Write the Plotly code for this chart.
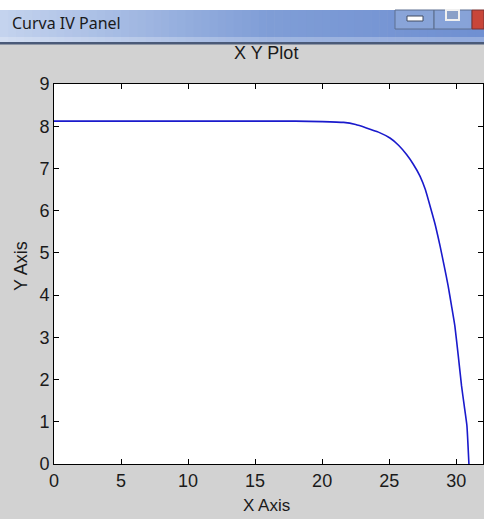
import plotly.graph_objects as go

# Data (I-V curve)
voltage = [0, 5, 10, 15, 18, 20, 21.6, 22.5, 23.3, 24.2, 25.06, 25.7, 26.3, 26.8, 27.3,
           27.7, 28.05, 28.45, 28.8, 29.1, 29.4, 29.65, 29.9, 30.15, 30.4, 30.6, 30.8, 30.95]
current = [8.12, 8.12, 8.12, 8.12, 8.12, 8.11, 8.09, 8.04, 7.96, 7.86, 7.72, 7.55, 7.33, 7.1, 6.82,
           6.5, 6.11, 5.65, 5.16, 4.7, 4.22, 3.75, 3.27, 2.58, 1.85, 1.38, 0.91, 0.0]

x_ticks = [0, 5, 10, 15, 20, 25, 30]
y_ticks = [0, 1, 2, 3, 4, 5, 6, 7, 8, 9]

W, H = 484, 519
L, R, T, B = 54, 483, 84, 464
PW, PH = R - L, B - T


def px(x):
    return (x - L) / PW


def py(y):
    return (B - y) / PH


FONT = "Liberation Sans Narrow, Liberation Sans, Arial, sans-serif"

fig = go.Figure()
fig.add_trace(go.Scatter(x=voltage, y=current, mode="lines", line_shape="spline",
                         line=dict(color="#1a1acc", width=1.6, smoothing=0.4),
                         showlegend=False, hoverinfo="skip"))

shapes = []
# white strip above title bar
shapes.append(dict(type="rect", xref="paper", yref="paper", x0=px(0), x1=px(W), y0=py(10), y1=py(0),
                   fillcolor="white", line=dict(width=0), layer="below"))
# title bar gradient
n = 60
c0 = (196, 211, 238)
c1 = (128, 158, 215)
c2 = (112, 144, 210)
for i in range(n):
    t = i / (n - 1)
    if t < 0.55:
        u = t / 0.55
        c = tuple(int(c0[k] + (c1[k] - c0[k]) * u) for k in range(3))
    else:
        u = (t - 0.55) / 0.45
        c = tuple(int(c1[k] + (c2[k] - c1[k]) * u) for k in range(3))
    xa = W * i / n
    xb = W * (i + 1) / n + 0.6
    shapes.append(dict(type="rect", xref="paper", yref="paper", x0=px(xa), x1=px(xb), y0=py(42), y1=py(10),
                       fillcolor="rgb(%d,%d,%d)" % c, line=dict(width=0), layer="below"))
# lighter band near bottom of title bar
shapes.append(dict(type="rect", xref="paper", yref="paper", x0=px(0), x1=px(W), y0=py(42), y1=py(37),
                   fillcolor="rgba(255,255,255,0.25)", line=dict(width=0), layer="below"))
# dark separator line
shapes.append(dict(type="rect", xref="paper", yref="paper", x0=px(0), x1=px(W), y0=py(44.5), y1=py(42),
                   fillcolor="#4a5a78", line=dict(width=0), layer="below"))
# window buttons
shapes.append(dict(type="rect", xref="paper", yref="paper", x0=px(395), x1=px(434), y0=py(29), y1=py(10),
                   fillcolor="rgba(150,175,220,0.6)", line=dict(color="#5c6e90", width=1), layer="below"))
shapes.append(dict(type="rect", xref="paper", yref="paper", x0=px(434), x1=px(472), y0=py(29), y1=py(10),
                   fillcolor="rgba(150,175,220,0.6)", line=dict(color="#5c6e90", width=1), layer="below"))
shapes.append(dict(type="rect", xref="paper", yref="paper", x0=px(472), x1=px(W), y0=py(29), y1=py(10),
                   fillcolor="#c8463a", line=dict(color="#7a3030", width=1), layer="below"))
shapes.append(dict(type="rect", xref="paper", yref="paper", x0=px(407), x1=px(423), y0=py(21), y1=py(16),
                   fillcolor="white", line=dict(color="#404a60", width=1), layer="below"))
shapes.append(dict(type="rect", xref="paper", yref="paper", x0=px(446), x1=px(459), y0=py(20), y1=py(10),
                   fillcolor="#8aa0c8", line=dict(color="#f0f0f0", width=2), layer="below"))

annotations = [
    dict(text="Curva IV Panel", x=px(10), y=py(23), xref="paper", yref="paper", xanchor="left",
         yanchor="middle", showarrow=False, font=dict(family="Noto Sans, Open Sans, sans-serif", size=16,
                                                         color="#1a1a1a")),
    dict(text="X Y Plot", x=px(266), y=py(53), xref="paper", yref="paper", xanchor="center",
         yanchor="middle", showarrow=False, font=dict(family=FONT, size=18, color="#1a1a1a")),
    dict(text="X Axis", x=px(266), y=py(506), xref="paper", yref="paper", xanchor="center",
         yanchor="middle", showarrow=False, font=dict(family=FONT, size=17, color="#1a1a1a")),
    dict(text="Y Axis", x=px(21), y=py(266), xref="paper", yref="paper", xanchor="center",
         yanchor="middle", showarrow=False, textangle=-90, font=dict(family=FONT, size=18, color="#1a1a1a")),
]

fig.update_layout(
    width=W, height=H,
    margin=dict(l=L, r=W - R, t=T, b=H - B, autoexpand=False),
    paper_bgcolor="#d2d2d2",
    plot_bgcolor="white",
    shapes=shapes,
    annotations=annotations,
    xaxis=dict(range=[0, 32], tickvals=x_ticks, ticktext=[str(v) for v in x_ticks],
               ticks="inside", ticklen=5, tickcolor="black", mirror="allticks", showline=True,
               linecolor="black", linewidth=1, showgrid=False, zeroline=False,
               tickfont=dict(family=FONT, size=18, color="#1a1a1a")),
    yaxis=dict(range=[0, 9], tickvals=y_ticks, ticktext=[str(v) for v in y_ticks],
               ticks="inside", ticklen=5, tickcolor="black", mirror="allticks", showline=True,
               linecolor="black", linewidth=1, showgrid=False, zeroline=False,
               tickfont=dict(family=FONT, size=18, color="#1a1a1a")),
)

fig.write_html("out.html")
